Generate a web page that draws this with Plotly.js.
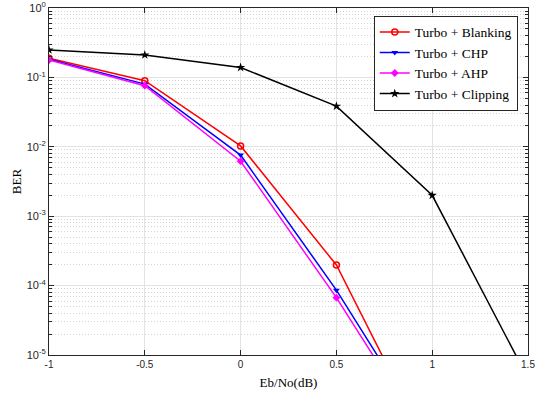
<!DOCTYPE html>
<html><head><meta charset="utf-8">
<script src="https://cdn.plot.ly/plotly-3.0.1.min.js"></script>
<style>body{margin:0;padding:0;background:#fff}#chart{width:536px;height:397px}</style>
</head><body><div id="chart"></div>
<script>
var ebno = [-1, -0.5, 0, 0.5, 1, 1.5];
var blanking = [0.189, 0.0897, 0.0103, 1.98e-4, 3.7e-7];
var chp = [0.182, 0.080, 0.0076, 8.6e-5, 5.4e-7];
var ahp = [0.178, 0.076, 0.0062, 6.7e-5, 4.5e-7];
var clipping = [0.249, 0.211, 0.139, 0.0385, 0.0020, 4.6e-6];
var names = ['Turbo + Blanking', 'Turbo + CHP', 'Turbo + AHP', 'Turbo + Clipping'];
var yTickVals = [1e-5, 1e-4, 1e-3, 1e-2, 1e-1, 1];
var yTickText = ['10<sup>-5</sup>', '10<sup>-4</sup>', '10<sup>-3</sup>', '10<sup>-2</sup>', '10<sup>-1</sup>', '10<sup>0</sup>'];
var xTickVals = [-1, -0.5, 0, 0.5, 1, 1.5];
var xTickText = ['-1', '-0.5', '0', '0.5', '1', '1.5'];
var minorMult = [2, 3, 4, 5, 6, 7, 8, 9];
var yMinorVals = [];
for (var d = -5; d < 0; d++) { minorMult.forEach(function (m) { yMinorVals.push(m * Math.pow(10, d)); }); }

function tr(y, name, color, sym, msize, mline) {
  return {x: ebno.slice(0, y.length), y: y, name: name, mode: 'lines+markers', type: 'scatter',
    line: {color: color, width: 1.5},
    marker: {symbol: sym, size: msize, color: color, line: {color: color, width: mline}},
    cliponaxis: true};
}
var data = [
  tr(blanking, names[0], '#ff0000', 'circle-open', 6, 1.5),
  tr(chp, names[1], '#0000ff', 'triangle-down', 6, 0),
  tr(ahp, names[2], '#ff00ff', 'diamond', 6, 0),
  tr(clipping, names[3], '#000000', 'star', 7, 0)
];
var serif = '"Times New Roman", "Liberation Serif", serif';
var layout = {
  width: 536, height: 397,
  margin: {l: 49, r: 8, t: 8, b: 42},
  paper_bgcolor: '#fff', plot_bgcolor: '#fff',
  showlegend: true,
  legend: {x: 0.678, y: 0.978, xanchor: 'left', yanchor: 'top', bgcolor: '#fff',
    bordercolor: '#262626', borderwidth: 1,
    font: {family: serif, size: 13.5, color: '#000'},
    tracegroupgap: 0, itemwidth: 30},
  xaxis: {range: [-1, 1.5], tickvals: xTickVals, ticktext: xTickText,
    showline: true, linecolor: '#262626', linewidth: 1, mirror: 'allticks',
    ticks: 'inside', ticklen: 5, tickcolor: '#262626',
    showgrid: true, gridcolor: '#e3e3e3', gridwidth: 1, zeroline: false,
    tickfont: {family: 'Liberation Sans', size: 10, color: '#262626'},
    title: {text: 'Eb/No(dB)', font: {family: serif, size: 13, color: '#000'}, standoff: 8}},
  yaxis: {type: 'log', range: [-5, 0], tickvals: yTickVals, ticktext: yTickText,
    ticklabeloverflow: 'allow',
    showline: true, linecolor: '#262626', linewidth: 1, mirror: 'allticks',
    ticks: 'inside', ticklen: 5, tickcolor: '#262626',
    showgrid: true, gridcolor: '#e3e3e3', gridwidth: 1, zeroline: false,
    tickfont: {family: 'Liberation Sans', size: 11, color: '#262626'},
    minor: {tickmode: 'array', tickvals: yMinorVals, showgrid: true, gridcolor: '#d4d4d4', griddash: '1px,2px', gridwidth: 1, ticks: 'inside', ticklen: 3, tickcolor: '#262626'},
    title: {text: 'BER', font: {family: serif, size: 13, color: '#000'}, standoff: 2}}
};
Plotly.newPlot('chart', data, layout, {displayModeBar: false, staticPlot: true});
</script></body></html>
